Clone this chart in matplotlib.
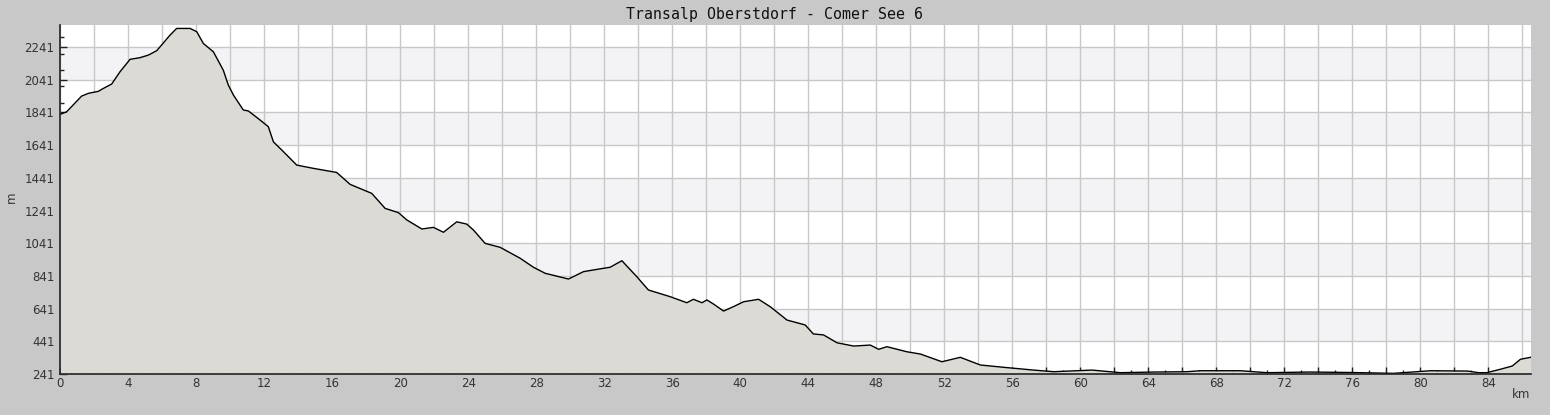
import matplotlib
matplotlib.use("Agg")
import matplotlib.pyplot as plt
from matplotlib.ticker import MultipleLocator, FuncFormatter
import numpy as np

# profile (km, m)
km = [0, 0.39, 1.27, 1.67, 2.25, 2.55, 3.04, 3.53, 4.12, 4.7, 5.2, 5.69, 6.47,
      6.86, 7.65, 8.04, 8.43, 9.02, 9.6, 9.9, 10.2, 10.78, 11.08, 11.76, 12.25,
      12.55, 13.14, 13.92, 14.9, 16.27, 17.06, 18.33, 19.12, 19.9, 20.4, 21.28,
      21.96, 22.55, 23.33, 23.92, 24.31, 25.0, 25.88, 27.06, 27.84, 28.53, 29.9,
      30.78, 31.57, 32.35, 33.04, 33.92, 34.6, 35.88, 36.86, 37.25, 37.75, 38.04,
      38.43, 39.02, 39.6, 40.2, 41.08, 41.76, 42.75, 43.82, 44.3, 44.9, 45.69,
      46.67, 47.65, 48.14, 48.63, 49.8, 50.6, 51.86, 52.94, 54.12, 55.69, 57.25,
      58.43, 60.69, 62.35, 64.3, 66.27, 67.06, 68.24, 69.4, 70.98, 73.5, 76.0,
      78.4, 80.6, 82.75, 83.43, 83.9, 84.7, 85.4, 85.88, 86.47]
elev = [1829, 1845, 1941, 1958, 1970, 1988, 2015, 2090, 2166, 2176, 2192, 2219, 2314,
        2355, 2355, 2335, 2263, 2212, 2100, 2008, 1947, 1856, 1850, 1795, 1754,
        1661, 1601, 1519, 1499, 1474, 1401, 1346, 1254, 1228, 1183, 1128,
        1138, 1108, 1172, 1158, 1122, 1040, 1016, 949, 894, 857, 822,
        867, 881, 894, 934, 836, 755, 714, 677, 698, 677, 694,
        669, 626, 653, 683, 698, 653, 571, 541, 486, 480, 432,
        412, 418, 392, 408, 377, 363, 316, 343, 296, 280, 265,
        255, 265, 249, 253, 255, 261, 261, 261, 249, 253, 250,
        245, 261, 259, 249, 249, 270, 290, 331, 343]

title = "Transalp Oberstdorf - Comer See 6"
y_bottom = 241
y_top = 2376
x_right = 86.5
bands = [(441, 641), (841, 1041), (1241, 1441), (1641, 1841), (2041, 2241)]

fig = plt.figure(figsize=(15.5, 4.15), dpi=100, facecolor="#c8c8c8")
ax = fig.add_axes([60 / 1550, 41 / 415, 1471 / 1550, 349 / 415])
ax.set_facecolor("white")

for lo, hi in bands:
    ax.axhspan(lo, hi, color="#f3f2f5", zorder=0, lw=0)

ax.fill_between(km, elev, y_bottom, color="#dbdad5", zorder=2, lw=0)
ax.plot(km, elev, color="black", lw=1.0, zorder=3)

ax.set_xlim(0, x_right)
ax.set_ylim(y_bottom, y_top)

ax.xaxis.set_major_locator(MultipleLocator(2))
ax.xaxis.set_minor_locator(MultipleLocator(1))
ax.xaxis.set_major_formatter(FuncFormatter(lambda v, p: "%d" % v if round(v) % 4 == 0 else ""))
ax.set_yticks(np.arange(241, 2400, 200))
ax.yaxis.set_minor_locator(MultipleLocator(100))

ax.grid(True, which="major", color="#c8c8c8", lw=1, zorder=1)
ax.set_axisbelow(True)

ax.tick_params(which="both", direction="in", colors="#222222", labelcolor="#333333",
               labelsize=8.5, top=False, right=False)
ax.tick_params(which="major", length=5, width=1)
ax.tick_params(which="minor", length=3, width=1)
ax.tick_params(axis="x", pad=2)
ax.tick_params(axis="y", pad=4)

for s in ["top", "right"]:
    ax.spines[s].set_visible(False)
for s in ["left", "bottom"]:
    ax.spines[s].set_color("#222222")
    ax.spines[s].set_linewidth(1.2)
    ax.spines[s].set_zorder(5)

fig.text(775 / 1550, 1 - 14 / 415, title, ha="center", va="center",
         family="DejaVu Sans Mono", fontsize=10.7, color="#111111")
fig.text(11 / 1550, 1 - 197 / 415, "m", rotation=90, ha="center", va="center",
         fontsize=8.5, color="#333333")
fig.text(1521 / 1550, 1 - 394 / 415, "km", ha="center", va="center",
         fontsize=8.5, color="#333333")

fig.savefig("out.png", dpi=100, facecolor=fig.get_facecolor())
